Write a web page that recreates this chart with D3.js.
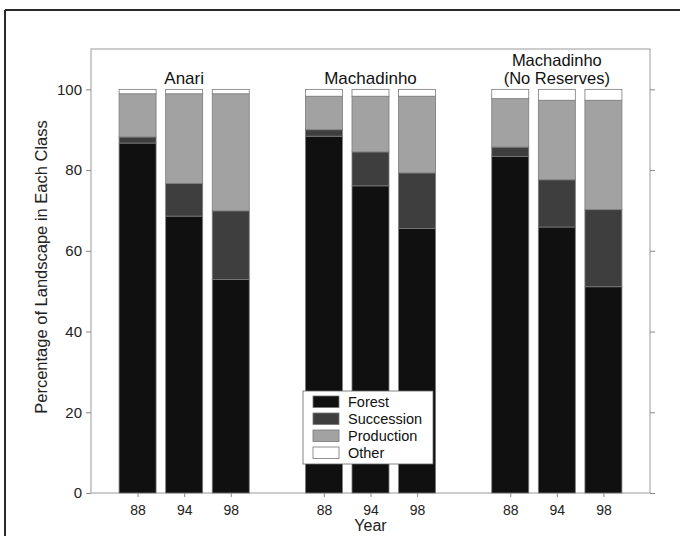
<!DOCTYPE html>
<html><head><meta charset="utf-8">
<script src="https://cdn.jsdelivr.net/npm/d3@7"></script>
<style>
html,body{margin:0;padding:0;background:#fff;}
svg{display:block;font-family:"Liberation Sans",Arial,Helvetica,sans-serif;}
</style></head>
<body>
<svg id="chart" width="680" height="536"></svg>
<script>
// ---- data ----
const groups = ["Anari", "Machadinho", "Machadinho|(No Reserves)"];
const years = ["88", "94", "98"];
const classes = ["Forest", "Succession", "Production", "Other"];
const forest     = [86.7, 68.6, 52.9, 88.4, 76.1, 65.5, 83.4, 65.9, 51.1];
const succession = [1.5, 8.1, 17.0, 1.6, 8.4, 13.8, 2.3, 11.7, 19.1];
const production = [10.7, 22.2, 29.0, 8.3, 13.8, 19.0, 12.0, 19.7, 27.1];
const other      = [1.1, 1.1, 1.1, 1.7, 1.7, 1.7, 2.3, 2.7, 2.7];
const yTicks = [0, 20, 40, 60, 80, 100];

const colors = {Forest:"#101010", Succession:"#3e3e3e", Production:"#a2a2a2", Other:"#ffffff"};

// build table
const rows = [];
groups.forEach((g, gi) => years.forEach((yr, yi) => {
  const i = gi * 3 + yi;
  rows.push({group: g, gi, year: yr, pos: gi * 4 + yi + 1,
    Forest: forest[i], Succession: succession[i], Production: production[i], Other: other[i]});
}));

const svg = d3.select("#chart");
const L = 91, R = 650, T = 49, B = 493;
const x = d3.scaleLinear().domain([0, 12]).range([L, R]);
const y = d3.scaleLinear().domain([0, 110]).range([B, T]);
const bw = 37;

// outer frame (top and left)
svg.append("line").attr("x1", 5).attr("x2", 680).attr("y1", 10).attr("y2", 10)
  .attr("stroke", "#2a2a2a").attr("stroke-width", 2);
svg.append("line").attr("x1", 5).attr("x2", 5).attr("y1", 10).attr("y2", 536)
  .attr("stroke", "#2a2a2a").attr("stroke-width", 2);

// plot box
svg.append("rect").attr("x", L).attr("y", T).attr("width", R - L).attr("height", B - T)
  .attr("fill", "#fff").attr("stroke", "#9a9a9a").attr("stroke-width", 1);

// stacked bars
const stack = d3.stack().keys(classes)(rows);
svg.append("g").selectAll("g").data(stack).join("g")
  .attr("fill", d => colors[d.key])
  .selectAll("rect").data(d => d).join("rect")
  .attr("x", d => x(d.data.pos) - bw / 2)
  .attr("width", bw)
  .attr("y", d => y(d[1]))
  .attr("height", d => y(d[0]) - y(d[1]))
  .attr("stroke", "#7a7a7a").attr("stroke-width", 0.8);

// y axes left and right
const yAxisL = d3.axisLeft(y).tickValues(yTicks).tickSize(5).tickPadding(4);
const gL = svg.append("g").attr("transform", `translate(${L},0)`).call(yAxisL);
gL.select(".domain").remove();
gL.selectAll("line").attr("stroke", "#888");
gL.selectAll("text").attr("font-size", 15).attr("fill", "#222")
  .attr("font-family", "'Liberation Sans',Arial,sans-serif");

const yAxisR = d3.axisRight(y).tickValues(yTicks).tickSize(5).tickFormat("");
const gR = svg.append("g").attr("transform", `translate(${R},0)`).call(yAxisR);
gR.select(".domain").remove();
gR.selectAll("line").attr("stroke", "#888");

// x axis ticks and labels
const xAxis = d3.axisBottom(x).tickValues(rows.map(r => r.pos))
  .tickFormat((d, i) => rows[i].year).tickSize(4).tickPadding(8);
const gX = svg.append("g").attr("transform", `translate(0,${B})`).call(xAxis);
gX.select(".domain").remove();
gX.selectAll("line").attr("stroke", "#888");
gX.selectAll("text").attr("font-size", 14).attr("fill", "#222")
  .attr("font-family", "'Liberation Sans',Arial,sans-serif");

// axis titles
svg.append("text").attr("x", (L + R) / 2).attr("y", 531).attr("text-anchor", "middle")
  .attr("font-size", 16).attr("fill", "#222").text("Year");
svg.append("text").attr("transform", `translate(47,${(T + B) / 2 - 4}) rotate(-90)`)
  .attr("text-anchor", "middle").attr("font-size", 16.5).attr("fill", "#222")
  .text("Percentage of Landscape in Each Class");

// group labels
groups.forEach((g, gi) => {
  const cx = x(gi * 4 + 2);
  const lines = g.split("|");
  lines.forEach((ln, li) => {
    const multi = lines.length > 1;
    svg.append("text").attr("x", cx).attr("text-anchor", "middle")
      .attr("font-size", multi ? 16.5 : 17).attr("fill", "#111")
      .attr("y", 84 - (lines.length - 1 - li) * 18).text(ln);
  });
});

// legend
const lg = svg.append("g").attr("transform", "translate(303,391)");
lg.append("rect").attr("width", 130).attr("height", 73).attr("fill", "#fff")
  .attr("stroke", "#666").attr("stroke-width", 0.8);
classes.forEach((c, i) => {
  lg.append("rect").attr("x", 10).attr("y", 5 + i * 17).attr("width", 26).attr("height", 11.5)
    .attr("fill", colors[c]).attr("stroke", "#777").attr("stroke-width", 0.8);
  lg.append("text").attr("x", 45).attr("y", 15.5 + i * 17).attr("font-size", 14.5)
    .attr("fill", "#111").text(c);
});
</script>
</body></html>
